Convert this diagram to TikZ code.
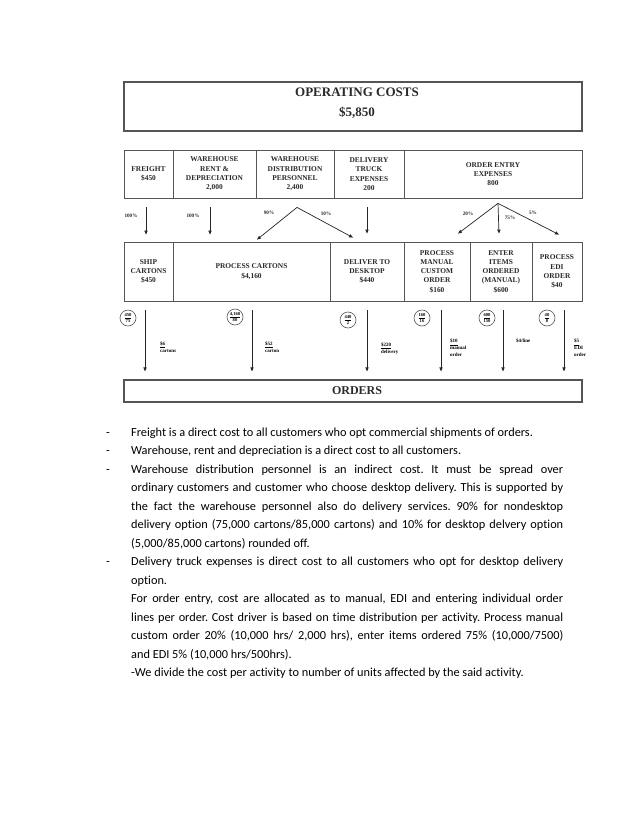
\documentclass[tikz,border=0pt]{standalone}
\usepackage{fontspec}
\setmainfont{Liberation Serif}
\newfontfamily\bodyfont[Ligatures=NoCommon]{Carlito}
\usetikzlibrary{arrows.meta}
\definecolor{linegray}{HTML}{555555}
\definecolor{inkgray}{HTML}{2A2A2A}
\tikzset{
  box/.style={draw=linegray, line width=0.8pt, inner sep=0pt, align=center,
    text=inkgray, font=\bfseries\fontsize{7.4}{9.3}\selectfont},
  title/.style={text=inkgray, font=\bfseries\fontsize{13}{15}\selectfont},
  pct/.style={text=inkgray, font=\bfseries\fontsize{5.2}{6}\selectfont},
  arr/.style={draw=black!85, line width=0.7pt, -{Triangle[length=4pt,width=3.2pt]}},
  ratio/.style={circle, draw=linegray, line width=0.6pt, minimum size=16pt,
    inner sep=0pt, align=center, font=\bfseries\fontsize{4.6}{5}\selectfont},
  rate/.style={anchor=west, align=left, inner sep=0pt,
    font=\bfseries\fontsize{5}{6.8}\selectfont},
  textline/.style={anchor=base west, inner sep=0pt,
    font=\bodyfont\fontsize{12.3}{14}\selectfont},
}
\frenchspacing
\begin{document}
\begin{tikzpicture}[x=1pt,y=-1pt]
  \useasboundingbox[fill=white] (0,0) rectangle (638,826);
  % top and bottom boxes
  \node[box, minimum width=458pt, minimum height=49pt, line width=1.1pt] (opcost) at (353,106.5) {};
  \node[title] (opcost-name) at (357,92) {OPERATING COSTS};
  \node[title] (opcost-sum) at (357,112.5) {\$5,850};
  \node[box, minimum width=458pt, minimum height=22pt, line width=1.1pt] (orders) at (353,391) {};
  \node[title, font=\bfseries\fontsize{12}{14}\selectfont] (orders-name) at (357,391) {ORDERS};
  % resources
  \node[box, minimum width=49pt, minimum height=48pt] (freight) at (148.5,174) {FREIGHT\\\$450};
  \node[box, minimum width=83pt, minimum height=48pt] (rent) at (214.5,174) {WAREHOUSE\\RENT \&\\DEPRECIATION\\2,000};
  \node[box, minimum width=78pt, minimum height=48pt] (wdp) at (295,174) {WAREHOUSE\\DISTRIBUTION\\PERSONNEL\\2,400};
  \node[box, minimum width=70pt, minimum height=48pt] (truck) at (369,174) {DELIVERY\\TRUCK\\EXPENSES\\200};
  \node[box, minimum width=178pt, minimum height=48pt] (entry) at (493,174) {ORDER ENTRY\\EXPENSES\\800};
  % activities
  \node[box, minimum width=49pt, minimum height=59pt] (ship) at (148.5,271.5) {SHIP\\CARTONS\\\$450};
  \node[box, minimum width=157pt, minimum height=59pt] (proc) at (251.5,271.5) {PROCESS CARTONS\\\$4,160};
  \node[box, minimum width=74pt, minimum height=59pt] (desk) at (367,271.5) {DELIVER TO\\DESKTOP\\\$440};
  \node[box, minimum width=66pt, minimum height=59pt] (manual) at (437,271.5) {PROCESS\\MANUAL\\CUSTOM\\ORDER\\\$160};
  \node[box, minimum width=62pt, minimum height=59pt] (items) at (501,271.5) {ENTER\\ITEMS\\ORDERED\\(MANUAL)\\\$600};
  \node[box, minimum width=50pt, minimum height=59pt] (edi) at (557,271.5) {PROCESS\\EDI\\ORDER\\\$40};
  % first stage
  \draw[arr, shorten <=9pt, shorten >=7pt] ([xshift=-2.5pt]freight.south) -- ([xshift=-2.5pt]freight.south |- ship.north);
  \draw[arr, shorten <=9pt, shorten >=7pt] ([xshift=-4.5pt]rent.south) -- ([xshift=-4.5pt]rent.south |- proc.north);
  \draw[arr, shorten <=9pt, shorten >=8pt] ([xshift=-2pt]truck.south) -- ([xshift=-2pt]truck.south |- desk.north);
  \coordinate (wdp-split) at ([xshift=2pt,yshift=-9pt]wdp.south);
  \draw[arr] (wdp-split) -- ([xshift=5.5pt,yshift=2pt]proc.north);
  \draw[arr] (wdp-split) -- ([xshift=-14pt,yshift=4pt]desk.north);
  \coordinate (entry-split) at ([xshift=5pt,yshift=-5pt]entry.south);
  \draw[arr] (entry-split) -- ([xshift=21pt,yshift=8pt]manual.north);
  \draw[arr] (entry-split) -- ([xshift=-2pt,yshift=8pt]items.north);
  \draw[arr] (entry-split) -- ([xshift=2pt,yshift=7pt]edi.north);
  \node[pct] (p-freight) at (131,216) {100\%};
  \node[pct] (p-rent) at (193,216) {100\%};
  \node[pct] (p-wdp-a) at (269,213) {90\%};
  \node[pct] (p-wdp-b) at (326,214) {10\%};
  \node[pct] (p-entry-a) at (468,214) {20\%};
  \node[pct] (p-entry-b) at (510,218) {75\%};
  \node[pct] (p-entry-c) at (533,213) {5\%};
  % second stage
  \draw[arr, shorten <=9pt, shorten >=8pt] ([xshift=-3.5pt]ship.south) -- ([xshift=-3.5pt]ship.south |- orders.north);
  \draw[arr, shorten <=9pt, shorten >=8pt] ([xshift=0.5pt]proc.south) -- ([xshift=0.5pt]proc.south |- orders.north);
  \draw[arr, shorten <=9pt, shorten >=8pt] (desk.south) -- (desk.south |- orders.north);
  \draw[arr, shorten <=9pt, shorten >=8pt] ([xshift=4pt]manual.south) -- ([xshift=4pt]manual.south |- orders.north);
  \draw[arr, shorten <=9pt, shorten >=8pt] ([xshift=2pt]items.south) -- ([xshift=2pt]items.south |- orders.north);
  \draw[arr, shorten <=9pt, shorten >=8pt] ([xshift=7pt]edi.south) -- ([xshift=7pt]edi.south |- orders.north);
  \node[ratio] (r-ship) at (128,318) {\underline{450}\\75};
  \node[ratio] (r-proc) at (235,317) {\underline{4,160}\\80};
  \node[ratio] (r-desk) at (348,320) {\underline{440}\\2};
  \node[ratio] (r-manual) at (422,318) {\underline{160}\\16};
  \node[ratio] (r-items) at (487,318) {\underline{600}\\150};
  \node[ratio] (r-edi) at (547,318) {\underline{40}\\8};
  \node[rate] (c-ship) at (160,347) {\underline{\$6}\\cartons};
  \node[rate] (c-proc) at (265,347) {\underline{\$52}\\carton};
  \node[rate] (c-desk) at (381,349) {\underline{\$220}\\delivery};
  \node[rate] (c-manual) at (450,348) {\underline{\$10}\\manual\\order};
  \node[rate] (c-items) at (516,341) {\$4/line};
  \node[rate] (c-edi) at (574,348) {\underline{\$5}\\EDI\\order};
  % notes
  \node[textline] (d1) at (106,436) {-};
  \node[textline] (t1) at (131,436) {Freight is a direct cost to all customers who opt commercial shipments of orders.};
  \node[textline] (d2) at (106,454.5) {-};
  \node[textline] (t2) at (131,454.5) {Warehouse, rent and depreciation is a direct cost to all customers.};
  \node[textline] (d3) at (106,473) {-};
  \node[textline] (t3) at (131,473) {\makebox[432pt][s]{Warehouse distribution personnel is an indirect cost. It must be spread over}};
  \node[textline] (t4) at (131,491.5) {\makebox[432pt][s]{ordinary customers and customer who choose desktop delivery. This is supported by}};
  \node[textline] (t5) at (131,510) {\makebox[432pt][s]{the fact the warehouse personnel also do delivery services. 90\% for nondesktop}};
  \node[textline] (t6) at (131,528.5) {\makebox[432pt][s]{delivery option (75,000 cartons/85,000 cartons) and 10\% for desktop delvery option}};
  \node[textline] (t7) at (131,547) {(5,000/85,000 cartons) rounded off.};
  \node[textline] (d4) at (106,565.5) {-};
  \node[textline] (t8) at (131,565.5) {\makebox[432pt][s]{Delivery truck expenses is direct cost to all customers who opt for desktop delivery}};
  \node[textline] (t9) at (131,584) {option.};
  \node[textline] (t10) at (131,602.5) {\makebox[432pt][s]{For order entry, cost are allocated as to manual, EDI and entering individual order}};
  \node[textline] (t11) at (131,621) {\makebox[432pt][s]{lines per order. Cost driver is based on time distribution per activity. Process manual}};
  \node[textline] (t12) at (131,639.5) {\makebox[432pt][s]{custom order 20\% (10,000 hrs/ 2,000 hrs), enter items ordered 75\% (10,000/7500)}};
  \node[textline] (t13) at (131,658) {and EDI 5\% (10,000 hrs/500hrs).};
  \node[textline] (t14) at (131,676.5) {-We divide the cost per activity to number of units affected by the said activity.};
\end{tikzpicture}
\end{document}
